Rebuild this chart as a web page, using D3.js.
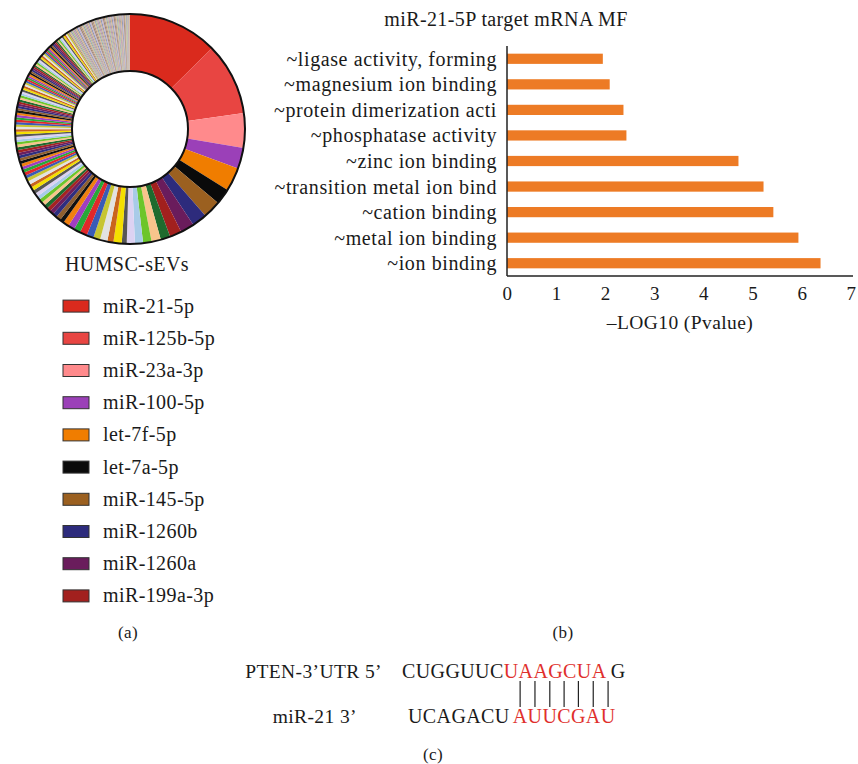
<!DOCTYPE html>
<html>
<head>
<meta charset="utf-8">
<title>miR-21-5p figure</title>
<script src="https://cdn.jsdelivr.net/npm/d3@7"></script>
<style>
  body { margin: 0; background: #fff; }
  svg text { font-family: "Liberation Serif", "Times New Roman", serif; letter-spacing: 0.4px; fill: #1a1a1a; }
</style>
</head>
<body>
<div id="chart"></div>
<script>
// ---- data (a): HUMSC-sEVs miRNA composition, top 10 named, rest unnamed
var legendLabels = ["miR-21-5p", "miR-125b-5p", "miR-23a-3p", "miR-100-5p", "let-7f-5p",
                    "let-7a-5p", "miR-145-5p", "miR-1260b", "miR-1260a", "miR-199a-3p"];
var legendColors = ["#da2a1d", "#e84542", "#ff8a8c", "#9b40b8", "#f07d00",
                    "#0a0a0a", "#9b6020", "#2d2b7c", "#6a1c5c", "#a2201e"];
var topShares = [45.4, 36.6, 17.5, 10.5, 12, 8, 9, 7.5, 7, 6];
var otherShares = [
  4.9, 4.7, 4.3, 4.1, 4.1, 2.5, 4.2, 3.1, 3.7, 3.5, 3.5, 3.7, 3.3, 3.3, 3.0, 2.1, 2.4,
  2.2, 2.1, 2.0, 2.0, 1.9, 1.9, 1.9, 1.8, 1.8, 1.8, 1.7, 1.7, 1.7, 1.6, 1.6, 1.6, 1.5,
  1.5, 1.5, 1.4, 1.4, 1.4, 1.4, 1.4, 1.3, 1.3, 1.3, 1.3, 1.3, 1.3, 1.3, 1.2, 1.2,
  1.2, 1.2, 1.2, 1.2, 1.2, 1.2, 1.1, 1.1, 1.1, 1.1, 1.1, 1.1, 1.1, 1.0, 1.0,
  1.0, 1.0, 1.0, 1.0, 1.0, 0.9, 0.9, 0.9, 0.9, 0.9, 0.9, 0.9, 0.9, 0.9, 0.9,
  0.85, 0.85, 0.85, 0.85, 0.85, 0.85, 0.85, 0.85, 0.85, 0.85,
  0.8, 0.8, 0.8, 0.8, 0.8, 0.8, 0.8, 0.8, 0.8, 0.8,
  0.75, 0.75, 0.75, 0.75, 0.75, 0.75, 0.75, 0.75, 0.75, 0.75,
  0.7, 0.7, 0.7, 0.7, 0.7, 0.7, 0.7, 0.7, 0.7, 0.7,
  0.65, 0.65, 0.65, 0.65, 0.65, 0.65, 0.65, 0.65, 0.65, 0.65,
  0.6, 0.6, 0.6, 0.6, 0.6, 0.6, 0.6, 0.6, 0.6, 0.6,
  0.55, 0.55, 0.55, 0.55, 0.55, 0.55, 0.55, 0.55, 0.55, 0.55,
  0.5, 0.5, 0.5, 0.5, 0.5, 0.5, 0.5, 0.5, 0.5, 0.5,
  0.4, 0.4, 0.4, 0.4, 0.4, 0.4, 0.4
];
// colour cycle used for the unnamed slices
var cycleColors = ["#1e6b2e", "#f8c48c", "#6cc52a", "#a8cbe8", "#dcd2f2", "#565656", "#f4df00",
                   "#c9641e", "#e2e2e2", "#c7c532", "#3a5bb6", "#e0282a", "#28a838", "#a03fbf",
                   "#f0800f", "#111111", "#8f5f2f", "#2e2e80", "#6b1f5f", "#a52222"];
// the very thin tail slices read as soft, muted tones
var tailColors = ["#b08a88", "#cfc08a", "#9a9cb6", "#b0c090", "#bf93ad", "#a4a4a4",
                  "#d6b08e", "#8c96b0", "#c4b2d0", "#a08a6e"];

// ---- data (b): GO molecular function terms
var mfTerms = ["~ligase activity, forming", "~magnesium ion binding", "~protein dimerization acti",
               "~phosphatase activity", "~zinc ion binding", "~transition metal ion bind",
               "~cation binding", "~metal ion binding", "~ion binding"];
var mfLogP = [1.95, 2.09, 2.37, 2.43, 4.71, 5.22, 5.42, 5.93, 6.38];
var xTicks = [0, 1, 2, 3, 4, 5, 6, 7];

// ---- data (c): seed pairing
var utrSeq = ["CUGGUUC", "UAAGCUA", " G"];
var mirSeq = ["UCAGACU", "AUUCGAU"];

var W = 858, H = 764;
var svg = d3.select("#chart").append("svg")
  .attr("width", W).attr("height", H);

// ================= (a) donut =================
var cx = 130, cy = 129, rOut = 115, rIn = 58;
var shares = topShares.concat(otherShares);
var pie = d3.pie().sort(null).value(function(d) { return d; });
var arc = d3.arc().innerRadius(rIn).outerRadius(rOut);
var nTop = legendColors.length;

var gDonut = svg.append("g").attr("transform", "translate(" + cx + "," + cy + ")");
gDonut.selectAll("path")
  .data(pie(shares))
  .enter().append("path")
  .attr("d", arc)
  .attr("fill", function(d, i) {
    if (i < nTop) return legendColors[i];
    if (d.data <= 0.7) return tailColors[(i - nTop) % tailColors.length];
    return cycleColors[(i - nTop) % cycleColors.length];
  })
  .attr("stroke", "none");

gDonut.append("circle").attr("r", rOut).attr("fill", "none").attr("stroke", "#111").attr("stroke-width", 2);
gDonut.append("circle").attr("r", rIn).attr("fill", "none").attr("stroke", "#111").attr("stroke-width", 2);

svg.append("text").attr("x", 127).attr("y", 271).attr("text-anchor", "middle")
  .style("font-size", "20px").text("HUMSC-sEVs");

var legend = svg.append("g");
var legY = d3.scaleBand().domain(legendLabels).range([290, 612]);
var rows = legend.selectAll("g").data(legendLabels).enter().append("g")
  .attr("transform", function(d) { return "translate(0," + (legY(d) + legY.bandwidth() / 2) + ")"; });
rows.append("rect").attr("x", 63).attr("y", -6).attr("width", 26).attr("height", 12)
  .attr("fill", function(d, i) { return legendColors[i]; })
  .attr("stroke", "#333").attr("stroke-width", 1);
rows.append("text").attr("x", 103).attr("y", 6.5)
  .style("font-size", "20px").text(function(d) { return d; });

svg.append("text").attr("x", 128).attr("y", 638).attr("text-anchor", "middle")
  .style("font-size", "17px").text("(a)");

// ================= (b) bar chart =================
var x = d3.scaleLinear().domain([0, 7]).range([507, 851]);
var y = d3.scaleBand().domain(mfTerms).range([46, 276]).paddingInner(0.6).paddingOuter(0.3);

svg.append("text").attr("x", 506).attr("y", 26).attr("text-anchor", "middle")
  .style("font-size", "20px").text("miR-21-5P target mRNA MF");

svg.append("g").selectAll("rect")
  .data(mfLogP).enter().append("rect")
  .attr("x", x(0))
  .attr("y", function(d, i) { return y(mfTerms[i]); })
  .attr("width", function(d) { return x(d) - x(0); })
  .attr("height", y.bandwidth())
  .attr("fill", "#ed7b25");

svg.append("g").selectAll("text")
  .data(mfTerms).enter().append("text")
  .attr("x", 497)
  .attr("y", function(d) { return y(d) + y.bandwidth() / 2; })
  .attr("dy", "0.35em")
  .attr("text-anchor", "end")
  .style("font-size", "20px")
  .style("letter-spacing", "0.6px")
  .text(function(d) { return d; });

// axes
svg.append("line").attr("x1", x(0)).attr("x2", x(0)).attr("y1", 46).attr("y2", 276)
  .attr("stroke", "#222").attr("stroke-width", 1.5);
var xAxis = svg.append("g").attr("transform", "translate(0,276)")
  .call(d3.axisBottom(x).tickValues(xTicks).tickSize(0).tickPadding(11).tickFormat(d3.format("d")));
xAxis.select(".domain").attr("stroke", "#222").attr("stroke-width", 1.5).attr("d", "M" + x(0) + ",0H853");
xAxis.selectAll("text").style("font-size", "19px").style("font-family", "Liberation Serif").attr("fill", "#1a1a1a");

svg.append("text").attr("x", 680).attr("y", 329).attr("text-anchor", "middle")
  .style("font-size", "19.5px").text("\u2013LOG10 (Pvalue)");

svg.append("text").attr("x", 563).attr("y", 638).attr("text-anchor", "middle")
  .style("font-size", "17px").text("(b)");

// ================= (c) seed pairing =================
var seqColors = ["#1a1a1a", "#e0302c", "#1a1a1a"];
svg.append("text").attr("x", 382).attr("y", 678).attr("text-anchor", "end")
  .style("font-size", "19.5px").text("PTEN-3\u2019UTR 5\u2019");
svg.append("text").attr("x", 357).attr("y", 723).attr("text-anchor", "end")
  .style("font-size", "19.5px").text("miR-21 3\u2019");

var utrText = svg.append("text").attr("x", 402).attr("y", 678).style("font-size", "20px")
  .attr("xml:space", "preserve");
utrText.selectAll("tspan").data(utrSeq).enter().append("tspan")
  .style("fill", function(d, i) { return seqColors[i]; })
  .text(function(d) { return d; });

var mirText = svg.append("text").attr("x", 408).attr("y", 723).style("font-size", "20px");
mirText.selectAll("tspan").data(mirSeq).enter().append("tspan")
  .attr("dx", function(d, i) { return i === 1 ? 3 : 0; })
  .style("fill", function(d, i) { return seqColors[i]; })
  .text(function(d) { return d; });

// one bar per paired base, centred on the red bases of miR-21
var node = mirText.node();
var offset = mirSeq[0].length;
var pairs = mirSeq[1].split("").map(function(c, i) {
  var box = node.getExtentOfChar(offset + i);
  return box.x + box.width / 2;
});
svg.append("g").selectAll("line").data(pairs).enter().append("line")
  .attr("x1", function(d) { return d; }).attr("x2", function(d) { return d; })
  .attr("y1", 681).attr("y2", 707)
  .attr("stroke", "#222").attr("stroke-width", 1.2);

svg.append("text").attr("x", 433).attr("y", 760).attr("text-anchor", "middle")
  .style("font-size", "17px").text("(c)");
</script>
</body>
</html>
